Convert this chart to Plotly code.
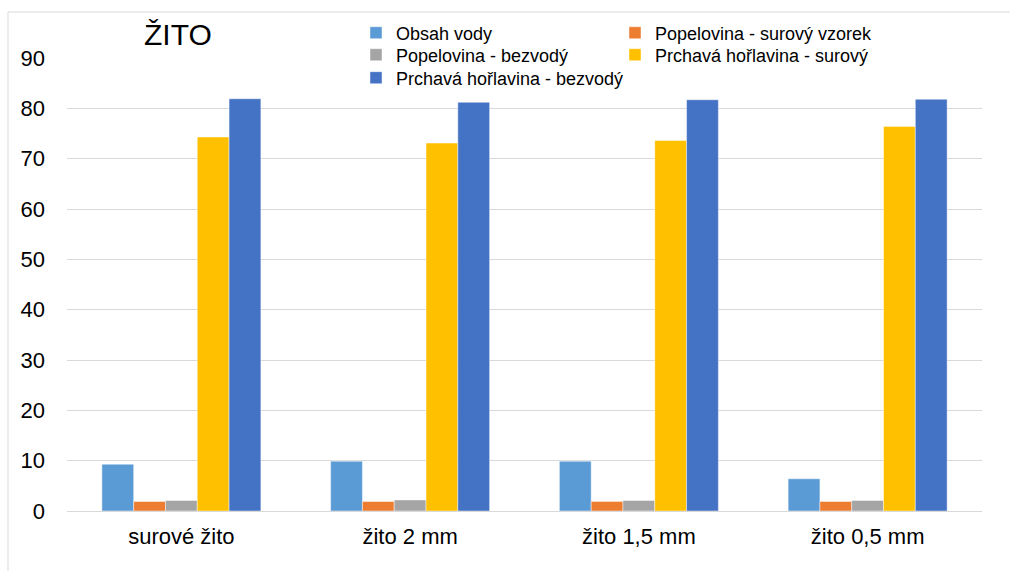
import plotly.graph_objects as go

categories = ["surové žito", "žito 2 mm", "žito 1,5 mm", "žito 0,5 mm"]
series_names = [
    "Obsah vody",
    "Popelovina - surový vzorek",
    "Popelovina - bezvodý",
    "Prchavá hořlavina - surový",
    "Prchavá hořlavina - bezvodý",
]
obsah_vody = [9.3, 9.9, 9.9, 6.4]
popel_surovy = [1.9, 1.9, 1.9, 1.9]
popel_bezvody = [2.1, 2.2, 2.1, 2.1]
prchava_surovy = [74.3, 73.1, 73.6, 76.4]
prchava_bezvody = [81.9, 81.2, 81.7, 81.8]
colors = ["#5B9BD5", "#ED7D31", "#A5A5A5", "#FFC000", "#4472C4"]
yticks = [0, 10, 20, 30, 40, 50, 60, 70, 80, 90]

series_values = [obsah_vody, popel_surovy, popel_bezvody, prchava_surovy, prchava_bezvody]

W, H = 1010, 571
L, R, T, B = 67, 28, 58, 60
pw, ph = W - L - R, H - T - B

def px_x(p):
    return (p - L) / pw

def px_y(p):
    return (H - B - p) / ph

# legend slot per series: (left px, row-centre px)
legend_slots = [(356, 33), (615, 33), (356, 55), (615, 55), (356, 78)]

fig = go.Figure()
legend_layout = {}
for i, (name, vals, col) in enumerate(zip(series_names, series_values, colors)):
    key = "legend" if i == 0 else f"legend{i + 1}"
    fig.add_trace(go.Bar(
        name=name, x=categories, y=vals, legend=key,
        marker=dict(color=col, line=dict(color="rgba(255,255,255,0.45)", width=1)),
    ))
    lx, ly = legend_slots[i]
    legend_layout[key] = dict(
        x=px_x(lx), xanchor="left", y=px_y(ly), yanchor="middle",
        font=dict(size=18, color="#000000"), bgcolor="rgba(0,0,0,0)",
        itemwidth=30, borderwidth=0,
    )

fig.update_layout(
    width=W, height=H,
    margin=dict(l=L, r=R, t=T, b=B, autoexpand=False),
    paper_bgcolor="white", plot_bgcolor="white",
    barmode="group", bargap=0.305, bargroupgap=0,
    font=dict(family="Liberation Sans, Arial, sans-serif", color="#000000"),
    showlegend=True,
    xaxis=dict(
        showgrid=False, showline=False, zeroline=False, ticks="",
        tickfont=dict(size=22, color="#000000"), ticklabelstandoff=10,
    ),
    yaxis=dict(
        range=[0, 90], tickvals=yticks, showgrid=True, gridcolor="#d9d9d9", gridwidth=1,
        zeroline=True, zerolinecolor="#d9d9d9", zerolinewidth=1, showline=False, ticks="",
        tickfont=dict(size=22, color="#000000"), ticklabelstandoff=21,
    ),
    annotations=[dict(
        text="ŽITO", x=px_x(178), y=px_y(35), xref="paper", yref="paper",
        xanchor="center", yanchor="middle", showarrow=False,
        font=dict(size=30, color="#000000"),
    )],
    shapes=[dict(
        type="rect", xref="paper", yref="paper",
        x0=px_x(8), x1=px_x(1030), y0=px_y(590), y1=px_y(12),
        line=dict(color="#d9d9d9", width=1), fillcolor="rgba(0,0,0,0)", layer="below",
    )],
    **legend_layout,
)

fig.write_html(
    "out.html",
    config={"displayModeBar": False},
    post_script="document.body.style.margin='0px';",
)
